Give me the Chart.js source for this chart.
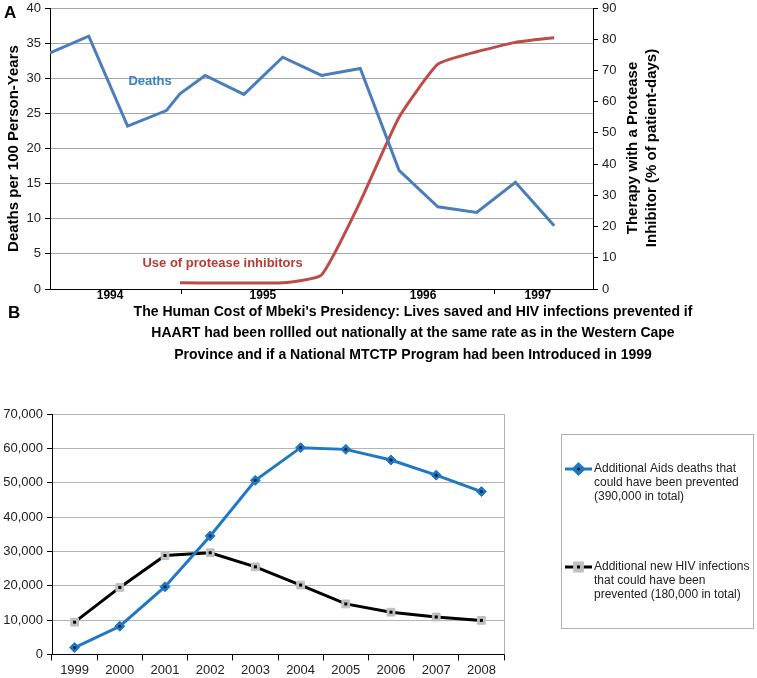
<!DOCTYPE html>
<html>
<head>
<meta charset="utf-8">
<script src="https://cdn.jsdelivr.net/npm/chart.js@4.4.0/dist/chart.umd.min.js"></script>
<style>
  html, body { margin: 0; padding: 0; background: #fff; }
  body { width: 757px; height: 678px; position: relative; overflow: hidden; font-family: "Liberation Sans", Arial, sans-serif; }
  #wrapA { position: absolute; left: 0; top: 0; width: 757px; height: 305px; z-index: 2; }
  #wrapB { position: absolute; left: 0; top: 300px; width: 757px; height: 380px; z-index: 1; }
  .tag { position: absolute; font-weight: bold; font-size: 17px; line-height: 1; color: #000; z-index: 3; }
</style>
</head>
<body>
<div id="wrapA"><canvas id="chartA"></canvas></div>
<div id="wrapB"><canvas id="chartB"></canvas></div>
<div class="tag" style="left:4px;top:4px">A</div>
<div class="tag" style="left:8px;top:304px">B</div>
<script>
// ---- panel A data (x in quarters from start of 1994) ----
const deathsX = [0, 1, 2, 3, 3.35, 4, 5, 6, 7, 8, 9, 10, 11, 12, 13];
const deaths = [33.6, 36.0, 23.2, 25.4, 27.8, 30.4, 27.7, 33.0, 30.4, 31.4, 16.9, 11.7, 10.9, 15.2, 9.0];
const piX = [3.35, 6, 7, 8, 9, 10, 11, 12, 13];
const piUse = [2, 2, 4.5, 28, 55, 72, 76, 79, 80.5];
const yearLabels = ['1994', '1995', '1996', '1997'];
const yearLabelX = [1.55, 5.49, 9.62, 12.58];
const yearBoundaryX = [3.4, 7.53, 11.45];

// ---- panel B data ----
const years = ['1999', '2000', '2001', '2002', '2003', '2004', '2005', '2006', '2007', '2008'];
const aidsDeaths = [2000, 8200, 19700, 34500, 50700, 60200, 59700, 56600, 52200, 47400];
const newInfections = [9400, 19500, 28800, 29600, 25500, 20200, 14700, 12300, 10900, 9900];
const seriesNames = [
  ['Additional Aids deaths that', 'could have been prevented', '(390,000 in total)'],
  ['Additional new HIV infections', 'that could have been', 'prevented (180,000 in total)']
];
const titleB = [
  "The Human Cost of Mbeki's Presidency: Lives saved and HIV infections prevented if",
  'HAART had been rollled out nationally at the same rate as in the Western Cape',
  'Province and if a National MTCTP Program had been Introduced in 1999'
];

const FONT = '"Liberation Sans", Arial, sans-serif';
Chart.defaults.font.family = FONT;
Chart.defaults.color = '#222';

// draws text notes; x/y either pixels or data values on a given scale
function textNotes(items) {
  return {
    id: 'textNotes',
    afterDatasetsDraw(chart) {
      const ctx = chart.ctx;
      items.forEach(it => {
        const x = it.xScale ? chart.scales[it.xScale].getPixelForValue(it.x) : it.x;
        const y = it.yScale ? chart.scales[it.yScale].getPixelForValue(it.y) : it.y;
        const lines = [].concat(it.text);
        ctx.save();
        ctx.font = it.font;
        ctx.fillStyle = it.color || '#000';
        ctx.textAlign = 'center';
        ctx.textBaseline = 'middle';
        ctx.translate(x, y);
        if (it.rotate) ctx.rotate(it.rotate);
        lines.forEach((l, i) => ctx.fillText(l, 0, (i - (lines.length - 1) / 2) * (it.lineHeight || 0)));
        ctx.restore();
      });
    }
  };
}

const xTicksA = yearLabelX.concat(yearBoundaryX).sort((a, b) => a - b);

new Chart(document.getElementById('chartA'), {
  type: 'line',
  data: {
    datasets: [
      {
        label: 'Deaths',
        data: deathsX.map((x, i) => ({ x: x, y: deaths[i] })),
        borderColor: '#4a7ebb',
        borderWidth: 3,
        pointRadius: 0,
        tension: 0,
        yAxisID: 'y'
      },
      {
        label: 'Use of protease inhibitors',
        data: piX.map((x, i) => ({ x: x, y: piUse[i] })),
        borderColor: '#be4b48',
        borderWidth: 3,
        pointRadius: 0,
        tension: 0.15,
        yAxisID: 'y2'
      }
    ]
  },
  options: {
    responsive: true,
    maintainAspectRatio: false,
    animation: false,
    layout: { padding: { top: 0, right: 0, bottom: 0, left: 0 } },
    plugins: { legend: { display: false }, tooltip: { enabled: false } },
    scales: {
      x: {
        type: 'linear',
        min: 0,
        max: 14,
        afterBuildTicks: s => { s.ticks = xTicksA.map(v => ({ value: v })); },
        afterFit: s => { s.height = 16; },
        ticks: {
          autoSkip: false,
          maxRotation: 0,
          padding: -4,
          color: '#000',
          font: { size: 12, weight: 'bold', lineHeight: 1 },
          callback: v => {
            const i = yearLabelX.indexOf(v);
            return i >= 0 ? yearLabels[i] : '';
          }
        },
        grid: {
          drawOnChartArea: false,
          tickLength: 5,
          tickColor: c => yearBoundaryX.includes(c.tick.value) ? '#000' : 'rgba(0,0,0,0)'
        },
        border: { color: '#000' }
      },
      y: {
        position: 'left',
        min: 0,
        max: 40,
        afterFit: s => { s.width = 50; },
        ticks: { stepSize: 5, padding: 4, font: { size: 13, lineHeight: 0.62 }, color: '#222' },
        grid: { color: '#a6a6a6', tickColor: '#000', tickLength: 5 },
        border: { color: '#000' },
        title: {
          display: true,
          text: 'Deaths per 100 Person-Years',
          color: '#000',
          font: { size: 15, weight: 'bold' },
          padding: { top: 5, bottom: 0 }
        }
      },
      y2: {
        position: 'right',
        min: 0,
        max: 90,
        afterFit: s => { s.width = 164; },
        ticks: { stepSize: 10, padding: 4, font: { size: 13, lineHeight: 0.62 }, color: '#222' },
        grid: { drawOnChartArea: false, tickColor: '#000', tickLength: 5 },
        border: { color: '#000' }
      }
    }
  },
  plugins: [textNotes([
    { text: 'Deaths', x: 2.58, y: 29.6, xScale: 'x', yScale: 'y', font: 'bold 13px ' + FONT, color: '#3a80c4' },
    { text: 'Use of protease inhibitors', x: 4.45, y: 3.7, xScale: 'x', yScale: 'y', font: 'bold 13px ' + FONT, color: '#b83b37' },
    { text: ['Therapy with a Protease', 'Inhibitor (% of patient-days)'], x: 642.5, y: 148, lineHeight: 19,
      rotate: -Math.PI / 2, font: 'bold 15px ' + FONT, color: '#000' }
  ])]
});

// ---- panel B helpers ----
const centerDots = {
  id: 'centerDots',
  afterDatasetsDraw(chart) {
    const ctx = chart.ctx;
    chart.data.datasets.forEach((ds, di) => {
      chart.getDatasetMeta(di).data.forEach(pt => {
        ctx.save();
        ctx.fillStyle = ds.dotColor;
        if (ds.pointStyle === 'rect') {
          ctx.fillRect(pt.x - 1.5, pt.y - 1.5, 3, 3);
        } else {
          ctx.beginPath();
          ctx.arc(pt.x, pt.y, 1.6, 0, Math.PI * 2);
          ctx.fill();
        }
        ctx.restore();
      });
    });
  }
};

const plotFrame = {
  id: 'plotFrame',
  beforeDatasetsDraw(chart) {
    const { ctx, chartArea: a } = chart;
    ctx.save();
    ctx.strokeStyle = '#b4b4b4';
    ctx.lineWidth = 1;
    ctx.beginPath();
    ctx.moveTo(Math.round(a.right) + 0.5, a.top);
    ctx.lineTo(Math.round(a.right) + 0.5, a.bottom);
    ctx.stroke();
    ctx.restore();
  }
};

const boxLegend = {
  id: 'boxLegend',
  afterDraw(chart) {
    const ctx = chart.ctx;
    ctx.save();
    ctx.strokeStyle = '#b0b0b0';
    ctx.lineWidth = 1;
    ctx.strokeRect(561.5, 134.5, 192, 194);
    const rowY = [169, 267];
    chart.data.datasets.forEach((ds, i) => {
      const y = rowY[i];
      ctx.strokeStyle = ds.borderColor;
      ctx.lineWidth = 3;
      ctx.beginPath();
      ctx.moveTo(565, y);
      ctx.lineTo(592, y);
      ctx.stroke();
      ctx.fillStyle = ds.pointBackgroundColor;
      ctx.strokeStyle = ds.pointBorderColor;
      Chart.helpers.drawPoint(ctx, { pointStyle: ds.pointStyle, radius: ds.pointRadius, rotation: 0, borderWidth: 1 }, 578.5, y);
      ctx.fillStyle = ds.dotColor;
      if (ds.pointStyle === 'rect') ctx.fillRect(577, y - 1.5, 3, 3);
      else { ctx.beginPath(); ctx.arc(578.5, y, 1.6, 0, Math.PI * 2); ctx.fill(); }
      ctx.fillStyle = '#222';
      ctx.font = '12px ' + FONT;
      ctx.textAlign = 'left';
      ctx.textBaseline = 'middle';
      seriesNames[i].forEach((l, k) => ctx.fillText(l, 594, y + k * 14));
    });
    ctx.restore();
  }
};

new Chart(document.getElementById('chartB'), {
  type: 'line',
  data: {
    labels: years,
    datasets: [
      {
        label: seriesNames[0].join(' '),
        data: aidsDeaths,
        borderColor: '#1f78c4',
        borderWidth: 3,
        pointStyle: 'rectRot',
        pointRadius: 5,
        pointBackgroundColor: '#1f78c4',
        pointBorderColor: '#1f78c4',
        pointBorderWidth: 1,
        dotColor: '#0b2440',
        tension: 0
      },
      {
        label: seriesNames[1].join(' '),
        data: newInfections,
        borderColor: '#000',
        borderWidth: 3,
        pointStyle: 'rect',
        pointRadius: 5.5,
        pointBackgroundColor: '#c0c0c0',
        pointBorderColor: '#c0c0c0',
        pointBorderWidth: 1,
        dotColor: '#000',
        tension: 0
      }
    ]
  },
  options: {
    responsive: true,
    maintainAspectRatio: false,
    animation: false,
    layout: { padding: { top: 114, right: 253, bottom: 0, left: 0 } },
    plugins: { legend: { display: false }, tooltip: { enabled: false } },
    scales: {
      x: {
        offset: true,
        ticks: { padding: 2, font: { size: 13 }, color: '#222', maxRotation: 0 },
        grid: { offset: true, drawOnChartArea: false, tickColor: '#000', tickLength: 6 },
        border: { color: '#000' }
      },
      y: {
        min: 0,
        max: 70000,
        afterFit: s => { s.width = 52; },
        ticks: {
          stepSize: 10000,
          padding: 4,
          font: { size: 13 },
          color: '#222',
          callback: v => v.toLocaleString('en-US')
        },
        grid: { color: '#b4b4b4', tickColor: '#000', tickLength: 5 },
        border: { color: '#000' }
      }
    }
  },
  plugins: [plotFrame, centerDots, boxLegend, textNotes([
    { text: titleB, x: 413, y: 33.5, lineHeight: 21.5, font: 'bold 14px ' + FONT, color: '#000' }
  ])]
});
</script>
</body>
</html>
